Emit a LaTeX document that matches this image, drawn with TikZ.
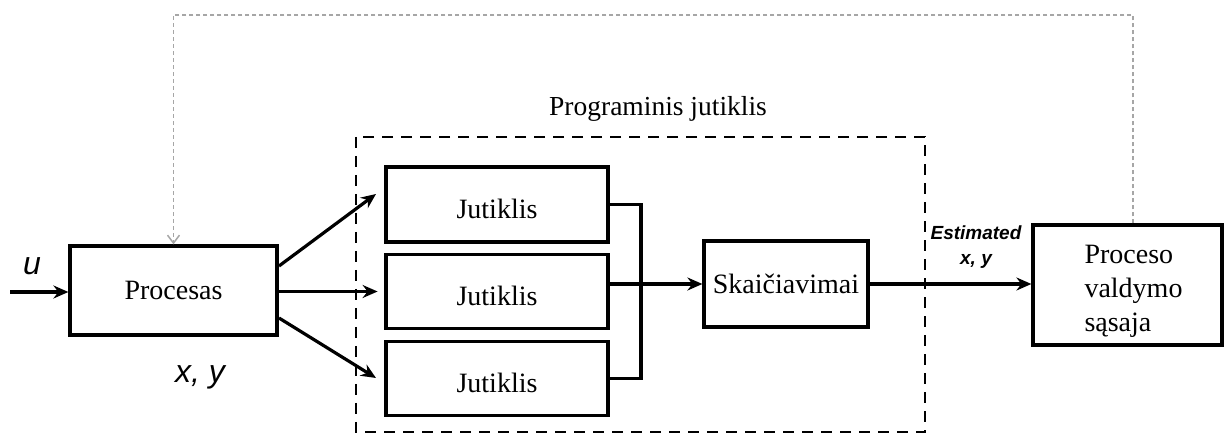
\documentclass[tikz,border=0pt]{standalone}
\usepackage{fontspec}
\setmainfont{Liberation Serif}
\newfontfamily\labelsans{Liberation Sans}
\usetikzlibrary{arrows.meta,calc}
\begin{document}
\begin{tikzpicture}[x=1pt,y=-1pt,
  blk/.style={draw,line width=3.2pt,rectangle,inner sep=0pt,
    font=\fontsize{28}{32}\selectfont},
  sensorbox/.style={blk,minimum width=222pt,text height=29pt},
  flow/.style={line width=3.2pt,-{Stealth[length=15pt,width=13pt,inset=5pt]}},
  wire/.style={line width=3.2pt},
  group/.style={draw,line width=2.6pt,dash pattern=on 11pt off 8pt},
  feedback/.style={draw=gray!70,line width=1.8pt,dash pattern=on 4pt off 3pt,
    -{Straight Barb[length=8pt,width=12pt,line width=1.5pt]}},
  sig/.style={font=\labelsans\itshape\fontsize{32}{34}\selectfont},
  est/.style={font=\labelsans\bfseries\itshape\fontsize{19}{25}\selectfont,
    align=center,inner sep=0pt}
]
\useasboundingbox (0,0) rectangle (1224,435);

% software sensor group
\draw[group] (356,137) rectangle (925,432);
\node[font=\fontsize{27.5}{30}\selectfont] (title) at (658,109) {Programinis jutiklis};

% blocks
\node[blk,minimum width=207pt,minimum height=89pt] (proc) at (173.5,290.5) {Procesas};
\node[sensorbox,minimum height=75pt] (j1) at (497,204.5) {Jutiklis};
\node[sensorbox,minimum height=74pt] (j2) at (497,291.5) {Jutiklis};
\node[sensorbox,minimum height=74pt] (j3) at (497,378.5) {Jutiklis};
\node[blk,minimum width=164pt,minimum height=86pt] (calc) at (786,284) {Skaičiavimai};
\node[blk,minimum width=189pt,minimum height=120pt,align=left,
  font=\fontsize{28}{34}\selectfont] (ctrl) at (1127.5,285)
  {\hspace*{12pt}\rule{0pt}{31pt}Proceso\\\hspace*{12pt}valdymo\\\hspace*{12pt}sąsaja};

% input
\coordinate (in) at (10,292);
\draw[flow] (in) -- (in -| proc.west);
\node[sig] (u) at (32,266) {u};
\node[sig] (xy) at (200,377) {x, y};

% process to sensors
\coordinate (pa) at (279,266);
\coordinate (pc) at (279,318);
\coordinate (ta) at (376,194);
\coordinate (tc) at (376,378);
\draw[flow] (pa) -- (ta);
\draw[flow] (proc.east |- j2.west) -- ++(99,0);
\draw[flow] (pc) -- (tc);

% sensors to computation
\coordinate (bus) at (641,284);
\draw[wire] (j1.east) -| (bus) |- (j3.east);
\draw[wire] (j2.east |- bus) -- (bus);
\draw[flow] (bus) -- (calc.west);

% estimate to control interface
\draw[flow] (calc.east) -- (calc.east -| ctrl.west);
\node[est] (estl) at (976,247) {Estimated\\x, y};

% feedback
\coordinate (fb) at (1133,15);
\draw[feedback] (ctrl.north -| fb) -- (fb) -| (proc.north);
\end{tikzpicture}
\end{document}
